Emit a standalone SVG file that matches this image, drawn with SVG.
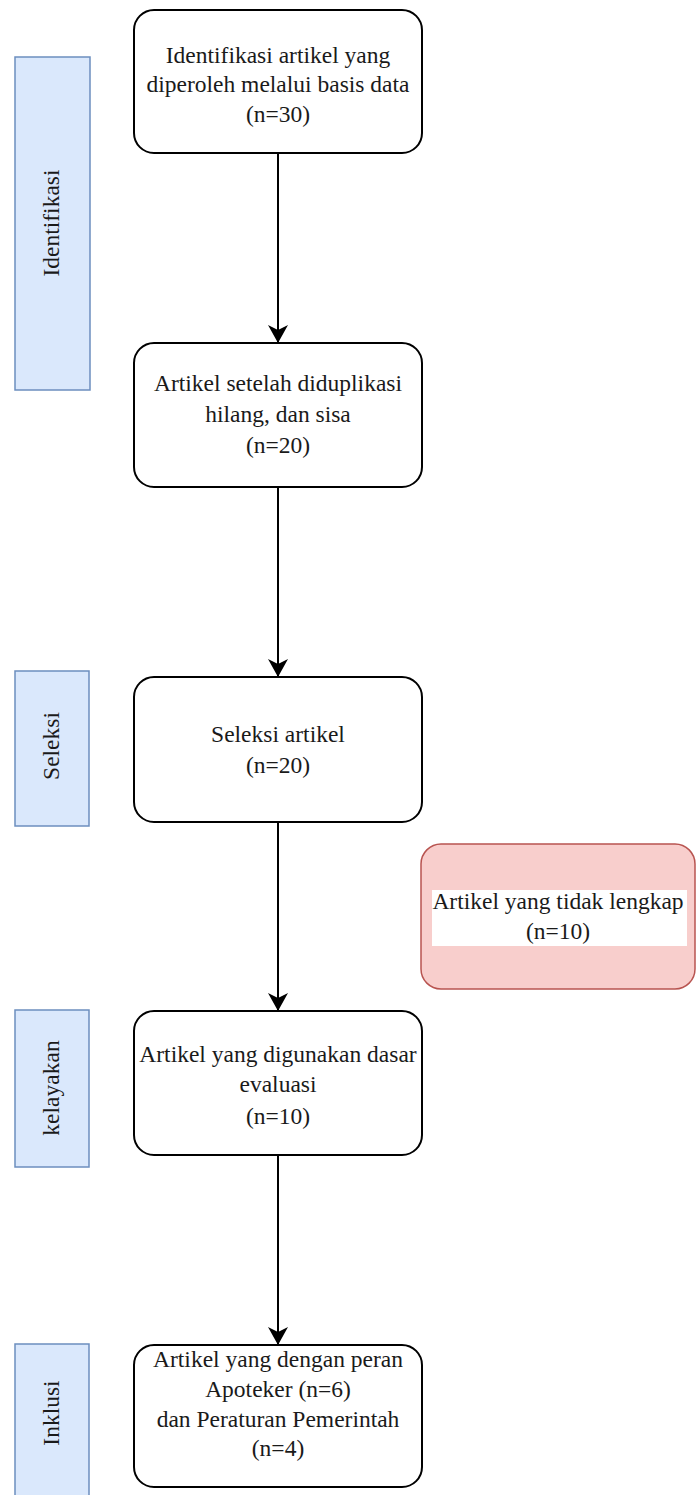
<svg xmlns="http://www.w3.org/2000/svg" width="697" height="1495" viewBox="0 0 697 1495">
  <style>
    .box { fill: #ffffff; stroke: #000000; stroke-width: 2; }
    .stage { fill: #dae8fc; stroke: #6c8ebf; stroke-width: 1.5; }
    .excl { fill: #f8cecc; stroke: #b85450; stroke-width: 1.5; }
    .t { font-family: "Liberation Serif", "Times New Roman", serif; font-size: 23.5px; fill: #1a1a1a; text-anchor: middle; }
    .edge { fill: none; stroke: #000000; stroke-width: 2; }
  </style>
  <defs>
    <marker id="arrow" markerUnits="userSpaceOnUse" markerWidth="24" markerHeight="24" viewBox="-21 -12 24 24" refX="0" refY="0" orient="auto">
      <path d="M -18 -10 L 0 0 L -18 10 L -13 0 Z" fill="#000000"/>
    </marker>
  </defs>
  <rect width="697" height="1495" fill="#ffffff"/>

  <g id="stage-identifikasi">
    <rect class="stage" x="15" y="57" width="75" height="333"/>
    <text class="t" transform="translate(59,223) rotate(-90)" x="0" y="0">Identifikasi</text>
  </g>
  <g id="stage-seleksi">
    <rect class="stage" x="15" y="671" width="74" height="155"/>
    <text class="t" transform="translate(59,746) rotate(-90)" x="0" y="0">Seleksi</text>
  </g>
  <g id="stage-kelayakan">
    <rect class="stage" x="15" y="1010" width="74" height="157"/>
    <text class="t" transform="translate(59,1088) rotate(-90)" x="0" y="0">kelayakan</text>
  </g>
  <g id="stage-inklusi">
    <rect class="stage" x="15" y="1344" width="74" height="160"/>
    <text class="t" transform="translate(59,1413) rotate(-90)" x="0" y="0">Inklusi</text>
  </g>

  <g id="connectors">
    <path class="edge" d="M 278 153 L 278 343" marker-end="url(#arrow)"/>
    <path class="edge" d="M 278 487 L 278 677" marker-end="url(#arrow)"/>
    <path class="edge" d="M 278 822 L 278 1011" marker-end="url(#arrow)"/>
    <path class="edge" d="M 278 1155 L 278 1345" marker-end="url(#arrow)"/>
  </g>

  <g id="node-identifikasi">
    <rect class="box" x="134" y="10" width="288" height="143" rx="20" ry="20"/>
    <text class="t" x="278" y="63">Identifikasi artikel yang</text>
    <text class="t" x="278" y="92">diperoleh melalui basis data</text>
    <text class="t" x="278" y="122">(n=30)</text>
  </g>
  <g id="node-duplikasi">
    <rect class="box" x="134" y="343" width="288" height="144" rx="20" ry="20"/>
    <text class="t" x="278" y="391">Artikel setelah diduplikasi</text>
    <text class="t" x="278" y="422">hilang, dan sisa</text>
    <text class="t" x="278" y="453">(n=20)</text>
  </g>
  <g id="node-seleksi">
    <rect class="box" x="134" y="677" width="288" height="145" rx="20" ry="20"/>
    <text class="t" x="278" y="742">Seleksi artikel</text>
    <text class="t" x="278" y="773">(n=20)</text>
  </g>
  <g id="node-tidak-lengkap">
    <rect class="excl" x="421" y="844" width="274" height="145" rx="20" ry="20"/>
    <rect x="432" y="890" width="255" height="56" fill="#ffffff"/>
    <text class="t" x="558" y="909">Artikel yang tidak lengkap</text>
    <text class="t" x="558" y="939">(n=10)</text>
  </g>
  <g id="node-kelayakan">
    <rect class="box" x="134" y="1011" width="288" height="144" rx="20" ry="20"/>
    <text class="t" x="278" y="1062">Artikel yang digunakan dasar</text>
    <text class="t" x="278" y="1092">evaluasi</text>
    <text class="t" x="278" y="1124">(n=10)</text>
  </g>
  <g id="node-inklusi">
    <rect class="box" x="134" y="1345" width="288" height="142" rx="20" ry="20"/>
    <text class="t" x="278" y="1367">Artikel yang dengan peran</text>
    <text class="t" x="278" y="1397">Apoteker (n=6)</text>
    <text class="t" x="278" y="1427">dan Peraturan Pemerintah</text>
    <text class="t" x="278" y="1456">(n=4)</text>
  </g>
</svg>
